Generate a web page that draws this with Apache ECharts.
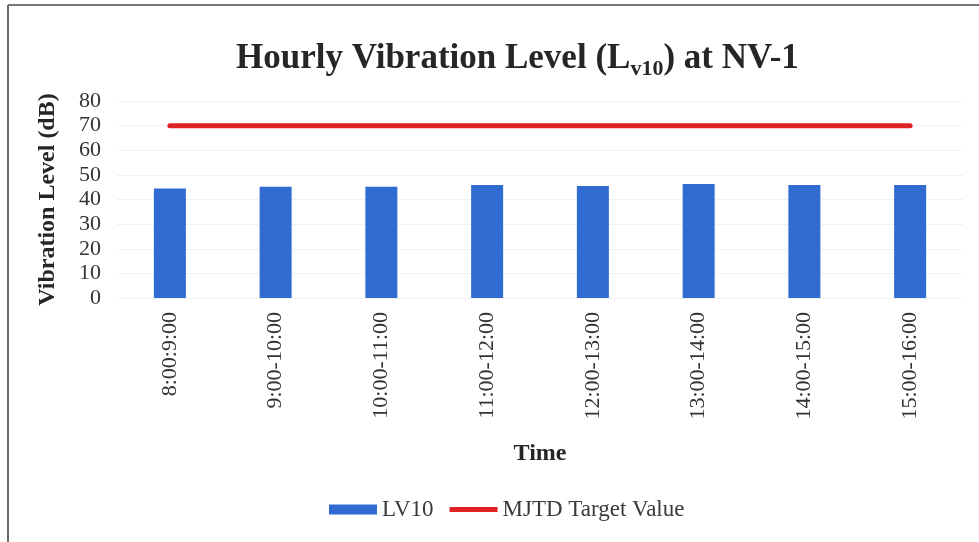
<!DOCTYPE html>
<html>
<head>
<meta charset="utf-8">
<script src="https://cdn.jsdelivr.net/npm/echarts@6/dist/echarts.min.js"></script>
<style>
  html, body { margin: 0; padding: 0; background: #fff; }
  #main { width: 979px; height: 542px; }
</style>
</head>
<body>
<div id="main"></div>
<script>
// hourly time slots
const timeSlots = ['8:00:9:00', '9:00-10:00', '10:00-11:00', '11:00-12:00',
  '12:00-13:00', '13:00-14:00', '14:00-15:00', '15:00-16:00'];
// LV10 values (dB)
const lv10Values = [44.5, 45.2, 45.2, 45.9, 45.5, 46.3, 45.9, 45.9];
// MJTD target value
const targetValues = [70, 70, 70, 70, 70, 70, 70, 70];
const yTicks = { min: 0, max: 80, interval: 10 };

const serif = '"Liberation Serif", "DejaVu Serif", serif';

var myChart = echarts.init(document.getElementById('main'));

const option = {
  backgroundColor: '#fff',
  textStyle: { fontFamily: serif },
  title: {
    text: '{m|Hourly Vibration Level (L}{s|v10}{m|) at NV-1}',
    left: 231,
    top: 33,
    textStyle: {
      rich: {
        m: { fontFamily: serif, fontSize: 35, fontWeight: 'bold', color: '#262626' },
        s: { fontFamily: serif, fontSize: 22, fontWeight: 'bold', color: '#262626', padding: [20, 0, 0, 0] }
      }
    }
  },
  legend: {
    bottom: 16,
    left: 324,
    itemWidth: 48,
    itemHeight: 10,
    itemGap: 16,
    textStyle: { fontFamily: serif, fontSize: 23, color: '#3a3a3a' },
    data: [
      { name: 'LV10', icon: 'rect' },
      // thin line icon, no marker
      { name: 'MJTD Target Value', icon: 'path://M0,0 L0,10 Z M0,2.5 L48,2.5 L48,7.5 L0,7.5 Z' }
    ]
  },
  grid: { left: 117, right: 16, top: 101, bottom: 244 },
  xAxis: {
    type: 'category',
    data: timeSlots,
    name: 'Time',
    nameLocation: 'middle',
    nameGap: 144,
    nameTextStyle: { fontFamily: serif, fontSize: 24, fontWeight: 'bold', color: '#262626' },
    axisLine: { show: false },
    axisTick: { show: false },
    axisLabel: { rotate: 90, fontFamily: serif, fontSize: 22, color: '#333', margin: 14 }
  },
  yAxis: {
    type: 'value',
    min: yTicks.min,
    max: yTicks.max,
    interval: yTicks.interval,
    name: 'Vibration Level (dB)',
    nameLocation: 'middle',
    nameGap: 57,
    nameTextStyle: { fontFamily: serif, fontSize: 24, fontWeight: 'bold', color: '#262626' },
    axisLine: { show: false },
    axisTick: { show: false },
    axisLabel: { fontFamily: serif, fontSize: 22, color: '#333', margin: 16 },
    splitLine: { lineStyle: { color: '#f1f1f1', width: 1 } }
  },
  series: [
    {
      name: 'LV10',
      type: 'bar',
      data: lv10Values,
      barWidth: 32,
      itemStyle: { color: '#2f6bd0' }
    },
    {
      name: 'MJTD Target Value',
      type: 'line',
      data: targetValues,
      symbol: 'none',
      lineStyle: { color: '#e02222', width: 5, cap: 'round' },
      itemStyle: { color: '#e02222' }
    }
  ],
  graphic: [
    { type: 'line', shape: { x1: 8, y1: 5, x2: 8, y2: 542 }, style: { stroke: '#666', lineWidth: 2 } },
    { type: 'line', shape: { x1: 8, y1: 5, x2: 979, y2: 5 }, style: { stroke: '#777', lineWidth: 2 } }
  ]
};

myChart.setOption(option);

window.addEventListener('resize', function () {
  myChart.resize();
});
</script>
</body>
</html>
